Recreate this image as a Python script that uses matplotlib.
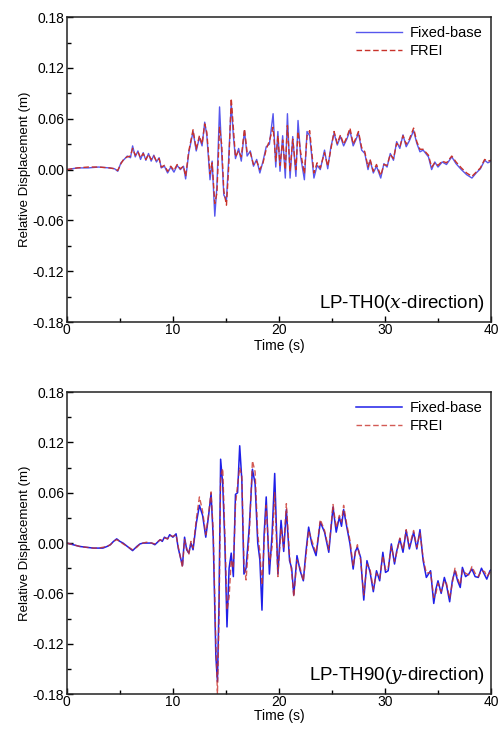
#!/usr/bin/env python3
"""
Relative displacement time histories, fixed-base vs FREI, for the
LP-TH0 (x-direction) and LP-TH90 (y-direction) records.

Output: out.png (499x731)
"""

import matplotlib
matplotlib.use('Agg')
import matplotlib.pyplot as plt
from matplotlib.ticker import MultipleLocator

plt.rcParams['font.family'] = ['Liberation Sans', 'DejaVu Sans']
plt.rcParams['mathtext.fontset'] = 'dejavuserif'

# ---------------------------------------------------------------------------
# Data (time in s, displacement in m)
# ---------------------------------------------------------------------------
TOP_TIME = [0, 1, 2, 3, 4, 4.5, 4.8, 5.1, 5.4, 5.7, 6.0, 6.2, 6.45, 6.7, 6.95,
            7.2, 7.45, 7.7, 7.95, 8.2, 8.45, 8.7, 8.9, 9.2, 9.5, 9.8, 10.1,
            10.4, 10.7, 11.0, 11.2, 11.5, 11.9, 12.2, 12.5, 12.75, 13.0, 13.2,
            13.5, 13.7, 13.95, 14.15, 14.4, 14.6, 14.8, 15.05, 15.25, 15.5,
            15.7, 15.9, 16.2, 16.45, 16.75, 17.0, 17.3, 17.6, 17.9, 18.2, 18.5,
            18.8, 19.1, 19.45, 19.7, 19.9, 20.1, 20.35, 20.6, 20.8, 21.05,
            21.3, 21.6, 21.8, 22.05, 22.4, 22.65, 22.9, 23.1, 23.3, 23.6, 23.9,
            24.3, 24.6, 24.9, 25.2, 25.5, 25.8, 26.1, 26.4, 26.7, 27.0, 27.25,
            27.5, 27.8, 28.1, 28.4, 28.6, 28.9, 29.2, 29.6, 29.9, 30.2, 30.5,
            30.8, 31.1, 31.4, 31.7, 32.0, 32.3, 32.7, 33.0, 33.3, 33.6, 34.1,
            34.4, 34.7, 35.0, 35.4, 35.8, 36.3, 36.7, 37.2, 37.7, 38.2, 38.6,
            39.0, 39.4, 39.7, 40.0]

TOP_FIXED = [0.000, 0.002, 0.002, 0.003, 0.002, 0.001, -0.002, 0.008, 0.012,
             0.016, 0.014, 0.028, 0.015, 0.022, 0.012, 0.020, 0.011, 0.019,
             0.010, 0.017, 0.009, 0.014, 0.002, 0.004, -0.004, 0.003, -0.003,
             0.005, 0.000, 0.004, -0.011, 0.020, 0.045, 0.022, 0.038, 0.028,
             0.056, 0.040, -0.012, 0.010, -0.055, -0.020, 0.074, 0.020,
             -0.030, -0.036, 0.010, 0.078, 0.040, 0.013, 0.025, 0.010, 0.046,
             0.016, 0.022, 0.004, 0.012, -0.004, 0.010, 0.027, 0.030, 0.066,
             0.003, 0.045, -0.002, 0.040, -0.010, 0.066, -0.010, 0.039,
             -0.008, 0.058, 0.015, -0.012, 0.045, 0.040, 0.015, -0.010, 0.005,
             0.000, 0.023, 0.001, 0.027, 0.043, 0.029, 0.039, 0.028, 0.036,
             0.046, 0.028, 0.035, 0.043, 0.023, 0.019, 0.000, 0.011, -0.004,
             0.004, -0.010, 0.007, 0.003, 0.019, 0.011, 0.033, 0.025, 0.041,
             0.027, 0.034, 0.046, 0.031, 0.021, 0.023, 0.015, 0.000, 0.009,
             0.003, 0.009, 0.006, 0.015, 0.007, 0.000, -0.006, -0.010, -0.004,
             0.001, 0.011, 0.008, 0.010]

TOP_FREI = [0.000, 0.002, 0.003, 0.003, 0.002, 0.001, -0.001, 0.007, 0.013,
            0.015, 0.016, 0.025, 0.017, 0.021, 0.014, 0.019, 0.012, 0.018,
            0.012, 0.016, 0.010, 0.013, 0.003, 0.005, -0.002, 0.004, -0.001,
            0.006, 0.001, 0.004, -0.008, 0.022, 0.047, 0.024, 0.040, 0.030,
            0.054, 0.044, -0.005, 0.008, -0.040, -0.028, 0.050, 0.030,
            -0.025, -0.042, 0.000, 0.084, 0.050, 0.015, 0.022, 0.015, 0.048,
            0.020, 0.020, 0.006, 0.010, 0.000, 0.008, 0.024, 0.034, 0.050,
            0.010, 0.040, 0.005, 0.035, 0.000, 0.052, -0.002, 0.036, 0.000,
            0.045, 0.020, -0.005, 0.040, 0.046, 0.020, -0.004, 0.008, 0.002,
            0.020, 0.004, 0.024, 0.045, 0.031, 0.041, 0.030, 0.038, 0.049,
            0.030, 0.037, 0.045, 0.026, 0.021, 0.003, 0.012, -0.002, 0.006,
            -0.007, 0.006, 0.005, 0.018, 0.013, 0.031, 0.027, 0.040, 0.030,
            0.036, 0.049, 0.033, 0.024, 0.024, 0.017, 0.003, 0.008, 0.005,
            0.010, 0.008, 0.016, 0.009, 0.002, -0.004, -0.008, -0.003, 0.002,
            0.012, 0.010, 0.011]

BOT_TIME = [0, 0.6, 1.2, 1.8, 2.5, 3.0, 3.4, 3.8, 4.1, 4.4, 4.7, 5.0, 5.3, 5.7,
            6.2, 6.6, 6.9, 7.2, 7.5, 8.0, 8.3, 8.8, 9.0, 9.2, 9.5, 9.7, 10.0,
            10.3, 10.5, 10.9, 11.1, 11.3, 11.5, 11.7, 11.9, 12.2, 12.5, 12.8,
            13.1, 13.35, 13.6, 13.8, 14.05, 14.2, 14.35, 14.5, 14.7, 14.9,
            15.1, 15.3, 15.5, 15.7, 15.9, 16.1, 16.3, 16.5, 16.7, 16.9, 17.2,
            17.5, 17.75, 18.0, 18.2, 18.4, 18.6, 18.8, 19.1, 19.35, 19.6, 19.9,
            20.2, 20.45, 20.7, 21.0, 21.2, 21.4, 21.7, 22.0, 22.3, 22.55, 22.8,
            23.1, 23.5, 23.9, 24.3, 24.7, 25.1, 25.4, 25.7, 25.9, 26.1, 26.4,
            26.7, 27.0, 27.2, 27.4, 27.7, 28.0, 28.3, 28.6, 28.9, 29.2, 29.5,
            29.8, 30.05, 30.3, 30.6, 30.9, 31.1, 31.4, 31.7, 32.0, 32.3, 32.7,
            33.0, 33.3, 33.6, 33.9, 34.3, 34.6, 34.8, 35.0, 35.3, 35.6, 35.8,
            36.1, 36.35, 36.6, 36.85, 37.1, 37.3, 37.6, 37.9, 38.2, 38.5, 38.8,
            39.1, 39.4, 39.6, 39.9, 40.0]

BOT_FIXED = [0.000, -0.002, -0.004, -0.005, -0.006, -0.006, -0.006, -0.004,
             -0.002, 0.002, 0.005, 0.002, 0.000, -0.004, -0.009, -0.004,
             -0.001, 0.000, 0.000, 0.000, -0.002, 0.004, 0.002, 0.007, 0.005,
             0.010, 0.007, 0.011, -0.006, -0.027, 0.007, -0.008, -0.012,
             0.000, -0.008, 0.023, 0.045, 0.033, 0.007, 0.031, 0.059, 0.007,
             -0.135, -0.165, -0.070, 0.100, 0.070, 0.000, -0.100, -0.030,
             -0.012, -0.040, 0.058, 0.060, 0.116, 0.075, -0.037, -0.030,
             0.019, 0.088, 0.071, 0.000, -0.020, -0.080, 0.010, 0.055, -0.037,
             0.010, 0.083, -0.037, 0.027, -0.010, 0.040, -0.021, -0.030,
             -0.062, -0.015, -0.033, -0.045, -0.010, 0.019, -0.001, -0.015,
             0.025, 0.013, -0.011, 0.043, 0.013, 0.031, 0.020, 0.040, 0.019,
             -0.001, -0.031, -0.010, -0.005, -0.017, -0.068, -0.021, -0.035,
             -0.058, -0.033, -0.045, -0.011, -0.035, -0.033, -0.001, -0.025,
             -0.010, 0.005, -0.011, 0.015, -0.007, 0.013, -0.007, 0.016,
             -0.021, -0.041, -0.033, -0.072, -0.055, -0.045, -0.060, -0.041,
             -0.050, -0.070, -0.045, -0.033, -0.045, -0.053, -0.029, -0.040,
             -0.037, -0.031, -0.040, -0.041, -0.030, -0.038, -0.043, -0.033,
             -0.032]

BOT_FREI = [0.000, -0.002, -0.004, -0.005, -0.006, -0.006, -0.005, -0.004,
            -0.002, 0.002, 0.004, 0.002, -0.001, -0.004, -0.008, -0.005,
            -0.001, 0.000, 0.001, 0.000, -0.001, 0.004, 0.003, 0.006, 0.005,
            0.009, 0.008, 0.010, -0.004, -0.029, 0.004, -0.006, -0.014,
            0.002, -0.006, 0.028, 0.055, 0.038, 0.010, 0.033, 0.061, 0.015,
            -0.120, -0.180, -0.090, 0.080, 0.089, 0.010, -0.080, -0.065,
            -0.020, -0.030, 0.045, 0.070, 0.090, 0.080, -0.025, -0.044,
            0.010, 0.098, 0.085, 0.010, -0.010, -0.050, 0.000, 0.045, -0.025,
            -0.005, 0.060, -0.040, 0.018, -0.005, 0.047, -0.015, -0.035,
            -0.064, -0.020, -0.030, -0.045, -0.015, 0.015, 0.003, -0.012,
            0.028, 0.015, -0.008, 0.046, 0.018, 0.033, 0.025, 0.045, 0.022,
            0.003, -0.028, -0.012, -0.002, -0.020, -0.062, -0.025, -0.032,
            -0.055, -0.036, -0.042, -0.015, -0.032, -0.030, -0.004, -0.022,
            -0.012, 0.006, -0.008, 0.016, -0.004, 0.015, -0.005, 0.012,
            -0.018, -0.036, -0.035, -0.065, -0.060, -0.048, -0.058, -0.045,
            -0.048, -0.066, -0.048, -0.030, -0.042, -0.050, -0.032, -0.036,
            -0.038, -0.028, -0.036, -0.040, -0.033, -0.034, -0.040, -0.035,
            -0.031]

Y_TICKS = [-0.18, -0.12, -0.06, 0.00, 0.06, 0.12, 0.18]
X_TICKS = [0, 10, 20, 30, 40]

BLUE = '#1f1fe8'
RED = '#c8322a'


def style_axes(ax, label, xlabel_pad):
    ax.set_xlim(0, 40)
    ax.set_ylim(-0.18, 0.18)
    ax.set_xticks(X_TICKS)
    ax.set_yticks(Y_TICKS)
    ax.set_yticklabels(['%.2f' % v for v in Y_TICKS])
    ax.xaxis.set_minor_locator(MultipleLocator(5))
    ax.yaxis.set_minor_locator(MultipleLocator(0.03))
    ax.tick_params(which='both', direction='in', top=False, right=False,
                   labelsize=10, pad=2)
    ax.tick_params(axis='x', which='both', pad=1)
    ax.tick_params(which='major', length=4, width=1)
    ax.tick_params(which='minor', length=3, width=1)
    for sp in ax.spines.values():
        sp.set_linewidth(1.1)
        sp.set_color('#222222')
    ax.set_xlabel('Time (s)', fontsize=10, labelpad=xlabel_pad)
    ax.set_ylabel('Relative Displacement (m)', fontsize=9.5, labelpad=1)
    ax.text(0.985, 0.025, label, transform=ax.transAxes, ha='right',
            va='bottom', fontsize=13.5)
    ax.legend(loc='upper right', frameon=False, fontsize=10.5,
              handlelength=3.2, handletextpad=0.5, labelspacing=0.3,
              borderaxespad=0.2)


def main():
    fig = plt.figure(figsize=(4.99, 7.31), dpi=100, facecolor='white')

    ax1 = fig.add_axes([0.134, 0.5595, 0.850, 0.417])
    ax1.plot(TOP_TIME, TOP_FIXED, color=BLUE, lw=1.0, alpha=0.75,
             label='Fixed-base')
    ax1.plot(TOP_TIME, TOP_FREI, color=RED, lw=1.0, ls=(0, (4, 2)),
             label='FREI')
    style_axes(ax1, r'LP-TH0($x$-direction)', 1)

    ax2 = fig.add_axes([0.134, 0.0506, 0.850, 0.413])
    ax2.plot(BOT_TIME, BOT_FIXED, color=BLUE, lw=1.1, label='Fixed-base')
    ax2.plot(BOT_TIME, BOT_FREI, color=RED, lw=1.0, ls=(0, (4, 2)),
             alpha=0.8, label='FREI')
    style_axes(ax2, r'LP-TH90($y$-direction)', 0)

    fig.savefig('out.png', dpi=100, facecolor='white')
    plt.close(fig)


if __name__ == '__main__':
    main()
